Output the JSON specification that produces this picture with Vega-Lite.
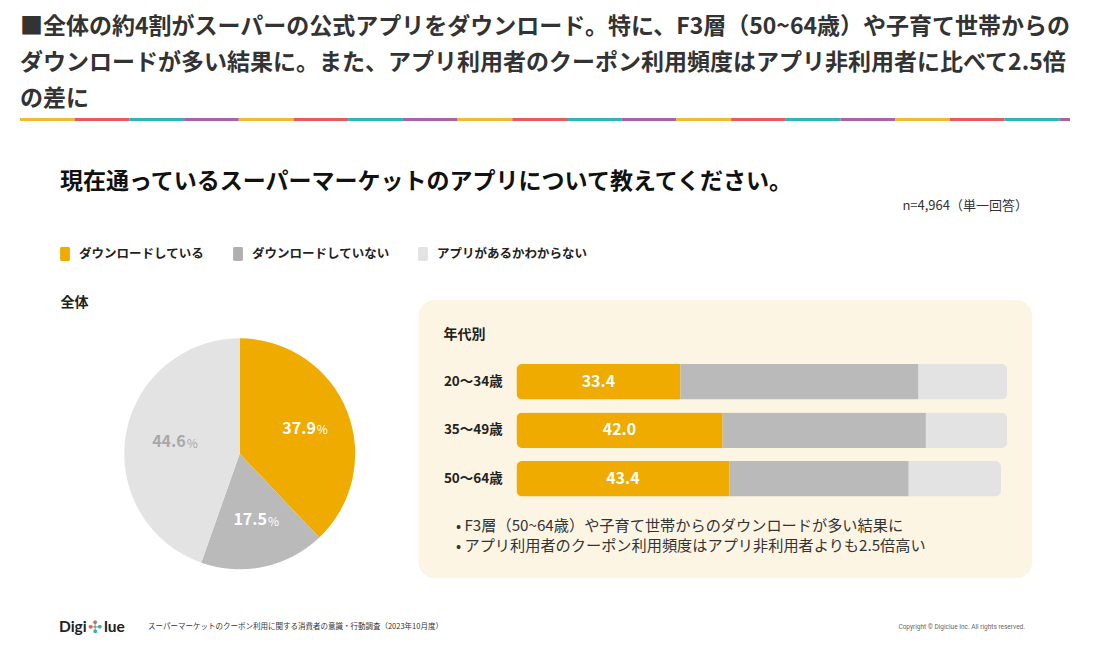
{
  "$schema": "https://vega.github.io/schema/vega-lite/v6.json",
  "background": "white",
  "padding": {"left": 20, "top": 16, "right": 20, "bottom": 6},
  "config": {
    "font": "Noto Sans CJK JP",
    "view": {"stroke": null},
    "title": {"font": "Noto Sans CJK JP"},
    "axis": {"labelFont": "Noto Sans CJK JP", "titleFont": "Noto Sans CJK JP"},
    "legend": {"labelFont": "Noto Sans CJK JP"}
  },
  "bounds": "flush",
  "spacing": 0,
  "vconcat": [
    {
      "title": {
        "text": ["■全体の約4割がスーパーの公式アプリをダウンロード。特に、F3層（50~64歳）や子育て世帯からの", "ダウンロードが多い結果に。また、アプリ利用者のクーポン利用頻度はアプリ非利用者に比べて2.5倍", "の差に"],
        "anchor": "start", "frame": "group", "fontSize": 23, "fontWeight": "bold", "color": "#333333", "lineHeight": 36, "offset": 7
      },
      "width": 1050,
      "height": 3,
      "data": {"values": [
        {"seg": 1, "c": "y"}, {"seg": 2, "c": "r"}, {"seg": 3, "c": "t"}, {"seg": 4, "c": "p"},
        {"seg": 5, "c": "y"}, {"seg": 6, "c": "r"}, {"seg": 7, "c": "t"}, {"seg": 8, "c": "p"},
        {"seg": 9, "c": "y"}, {"seg": 10, "c": "r"}, {"seg": 11, "c": "t"}, {"seg": 12, "c": "p"},
        {"seg": 13, "c": "y"}, {"seg": 14, "c": "r"}, {"seg": 15, "c": "t"}, {"seg": 16, "c": "p"},
        {"seg": 17, "c": "y"}, {"seg": 18, "c": "r"}, {"seg": 19, "c": "t"}, {"seg": 20, "c": "p"}
      ]},
      "mark": {"type": "bar", "clip": true},
      "encoding": {
        "x": {"field": "seg", "type": "ordinal", "axis": null, "scale": {"range": [0, 1094], "paddingInner": 0, "paddingOuter": 0}},
        "color": {"field": "c", "type": "nominal", "legend": null, "scale": {"domain": ["y", "r", "t", "p"], "range": ["#F2BB2F", "#E85B5A", "#2EB5B6", "#A962A7"]}}
      }
    },
    {
      "width": 1005,
      "height": 179,
      "title": {"text": "現在通っているスーパーマーケットのアプリについて教えてください。", "anchor": "start", "frame": "group", "dx": 40, "offset": -73, "fontSize": 23, "fontWeight": "bold", "color": "#111111"},
      "data": {"values": [{"note": "n=4,964（単一回答）"}]},
      "mark": {"type": "text", "align": "right", "baseline": "middle", "fontSize": 13, "color": "#333333", "dy": -5, "dx": 3},
      "encoding": {"x": {"value": "width"}, "text": {"field": "note"}}
    },
    {
      "bounds": "flush",
      "spacing": 63.2,
      "resolve": {"scale": {"color": "independent"}, "legend": {"color": "independent"}},
      "hconcat": [
        {
          "width": 40.6,
          "height": 10,
          "data": {"values": [
            {"cat": "ダウンロードしている"},
            {"cat": "ダウンロードしていない"},
            {"cat": "アプリがあるかわからない"}
          ]},
          "mark": {"type": "point", "filled": true, "size": 0},
          "encoding": {
            "color": {
              "field": "cat", "type": "nominal",
              "scale": {"domain": ["ダウンロードしている", "ダウンロードしていない", "アプリがあるかわからない"], "range": ["#EFAB00", "#B0B0B0", "#E3E3E3"]},
              "legend": {
                "orient": "none", "legendX": 38, "legendY": -53, "direction": "horizontal", "title": null,
                "symbolType": "M-0.5,-1H0.5Q0.7,-1 0.7,-0.8V0.8Q0.7,1 0.5,1H-0.5Q-0.7,1 -0.7,0.8V-0.8Q-0.7,-1 -0.5,-1Z",
                "symbolSize": 196, "symbolStrokeWidth": 0, "symbolOpacity": 1, "labelFontSize": 12.5, "labelFontWeight": "bold",
                "labelColor": "#222222", "labelOffset": 7, "columnPadding": 26, "padding": 0
              }
            }
          }
        },
        {
          "width": 231,
          "height": 307.6,
          "title": {"text": "全体", "anchor": "start", "frame": "group", "dx": -63.8, "offset": -10, "fontSize": 14, "fontWeight": "bold", "color": "#222222"},
          "data": {"values": [
            {"cat": "ダウンロードしている", "v": 37.9, "k": 1},
            {"cat": "ダウンロードしていない", "v": 17.5, "k": 2},
            {"cat": "アプリがあるかわからない", "v": 44.6, "k": 3}
          ]},
          "encoding": {
            "theta": {"field": "v", "type": "quantitative", "stack": true},
            "order": {"field": "k", "type": "quantitative"}
          },
          "layer": [
            {
              "mark": {"type": "arc"},
              "encoding": {
                "color": {
                  "field": "cat", "type": "nominal",
                  "scale": {"domain": ["ダウンロードしている", "ダウンロードしていない", "アプリがあるかわからない"], "range": ["#EFAB00", "#BABABA", "#E3E3E3"]},
                  "legend": null
                }
              }
            },
            {
              "mark": {"type": "text", "radius": 68, "align": "right", "baseline": "middle", "dx": 13, "fontSize": 16, "fontWeight": "bold"},
              "encoding": {
                "detail": {"field": "cat"},
                "text": {"field": "v", "type": "quantitative", "format": ".1f"},
                "color": {"condition": {"test": "datum.k === 3", "value": "#A8A8A8"}, "value": "#FFFFFF"}
              }
            },
            {
              "mark": {"type": "text", "radius": 68, "align": "left", "baseline": "middle", "dx": 14, "dy": 1.5, "fontSize": 12, "text": "%"},
              "encoding": {
                "detail": {"field": "cat"},
                "color": {"condition": {"test": "datum.k === 3", "value": "#A8A8A8"}, "value": "#FFFFFF"}
              }
            }
          ]
        },
        {
          "width": 614,
          "height": 278,
          "view": {"fill": "#FDF5E4", "cornerRadius": 16, "stroke": null},
          "title": {"text": "年代別", "anchor": "start", "frame": "group", "dx": 25, "offset": -42, "fontSize": 14, "fontWeight": "bold", "color": "#222222"},
          "data": {"values": [
            {"age": "20〜34歳", "cat": "ダウンロードしている", "v": 33.4, "k": 1},
            {"age": "20〜34歳", "cat": "ダウンロードしていない", "v": 48.5, "k": 2},
            {"age": "20〜34歳", "cat": "アプリがあるかわからない", "v": 18.1, "k": 3},
            {"age": "35〜49歳", "cat": "ダウンロードしている", "v": 42.0, "k": 1},
            {"age": "35〜49歳", "cat": "ダウンロードしていない", "v": 41.4, "k": 2},
            {"age": "35〜49歳", "cat": "アプリがあるかわからない", "v": 16.6, "k": 3},
            {"age": "50〜64歳", "cat": "ダウンロードしている", "v": 43.4, "k": 1},
            {"age": "50〜64歳", "cat": "ダウンロードしていない", "v": 36.5, "k": 2},
            {"age": "50〜64歳", "cat": "アプリがあるかわからない", "v": 18.8, "k": 3}
          ]},
          "encoding": {
            "y": {
              "field": "age", "type": "nominal", "sort": ["20〜34歳", "35〜49歳", "50〜64歳"],
              "scale": {"range": [57.5, 203], "paddingInner": 0.272, "paddingOuter": 0.136},
              "axis": {"orient": "left", "offset": -25, "domain": false, "ticks": false, "tickSize": 0, "labelPadding": 0, "labelAlign": "left", "title": null, "labelFontSize": 13.5, "labelFontWeight": "bold", "labelColor": "#222222"}
            },
            "order": {"field": "k", "type": "quantitative"}
          },
          "layer": [
            {
              "mark": {"type": "bar", "cornerRadius": 6},
              "encoding": {
                "x": {
                  "field": "v", "type": "quantitative", "stack": "zero",
                  "scale": {"domain": [0, 100], "range": [98, 589]},
                  "axis": {
                    "orient": "bottom", "domain": false, "ticks": false, "labels": false, "grid": false,
                    "title": ["•  F3層（50~64歳）や子育て世帯からのダウンロードが多い結果に", "•  アプリ利用者のクーポン利用頻度はアプリ非利用者よりも2.5倍高い"],
                    "titleX": 37, "titleY": -53, "titleAlign": "left", "titleAnchor": "start", "titleBaseline": "middle",
                    "titleFontSize": 15.2, "titleFontWeight": "normal", "titleColor": "#333333", "titleLineHeight": 20
                  }
                },
                "color": {
                  "field": "cat", "type": "nominal", "legend": null,
                  "scale": {"domain": ["ダウンロードしている", "ダウンロードしていない", "アプリがあるかわからない"], "range": ["#EFAB00", "#BABABA", "#E3E3E3"]}
                }
              }
            },
            {
              "mark": {"type": "text", "fontSize": 16, "fontWeight": "bold", "color": "#FFFFFF", "baseline": "middle"},
              "encoding": {
                "x": {"field": "v", "type": "quantitative", "stack": "zero", "bandPosition": 0.5},
                "detail": {"field": "cat"},
                "text": {"condition": {"test": "datum.k === 1", "field": "v", "type": "quantitative", "format": ".1f"}, "value": ""}
              }
            }
          ]
        }
      ]
    },
    {
      "width": 1005,
      "height": 327,
      "data": {"values": [{}]},
      "layer": [
        {"mark": {"type": "text", "text": "Digi", "align": "left", "baseline": "middle", "dx": 39, "font": "Lato", "fontSize": 15.5, "fontWeight": "bold", "color": "#222222"}, "encoding": {"x": {"value": 0}, "y": {"value": "height"}}},
        {"mark": {"type": "text", "text": "✣", "align": "left", "baseline": "middle", "dx": 68, "dy": 1, "fontSize": 17, "color": {"gradient": "linear", "x1": 0, "y1": 0, "x2": 1, "y2": 1, "stops": [{"offset": 0, "color": "#F2BB2F"}, {"offset": 0.35, "color": "#E85B5A"}, {"offset": 0.65, "color": "#2EB5B6"}, {"offset": 1, "color": "#A962A7"}]}}, "encoding": {"x": {"value": 0}, "y": {"value": "height"}}},
        {"mark": {"type": "text", "text": "lue", "align": "left", "baseline": "middle", "dx": 84, "font": "Lato", "fontSize": 15.5, "fontWeight": "bold", "color": "#222222"}, "encoding": {"x": {"value": 0}, "y": {"value": "height"}}},
        {"mark": {"type": "text", "text": "スーパーマーケットのクーポン利用に関する消費者の意識・行動調査（2023年10月度）", "align": "left", "baseline": "middle", "dx": 128, "fontSize": 7.5, "color": "#333333"}, "encoding": {"x": {"value": 0}, "y": {"value": "height"}}},
        {"mark": {"type": "text", "text": "Copyright © Digiclue Inc. All rights reserved.", "align": "right", "baseline": "middle", "fontSize": 6.5, "font": "Roboto", "color": "#666666"}, "encoding": {"x": {"value": "width"}, "y": {"value": "height"}}}
      ]
    }
  ]
}
